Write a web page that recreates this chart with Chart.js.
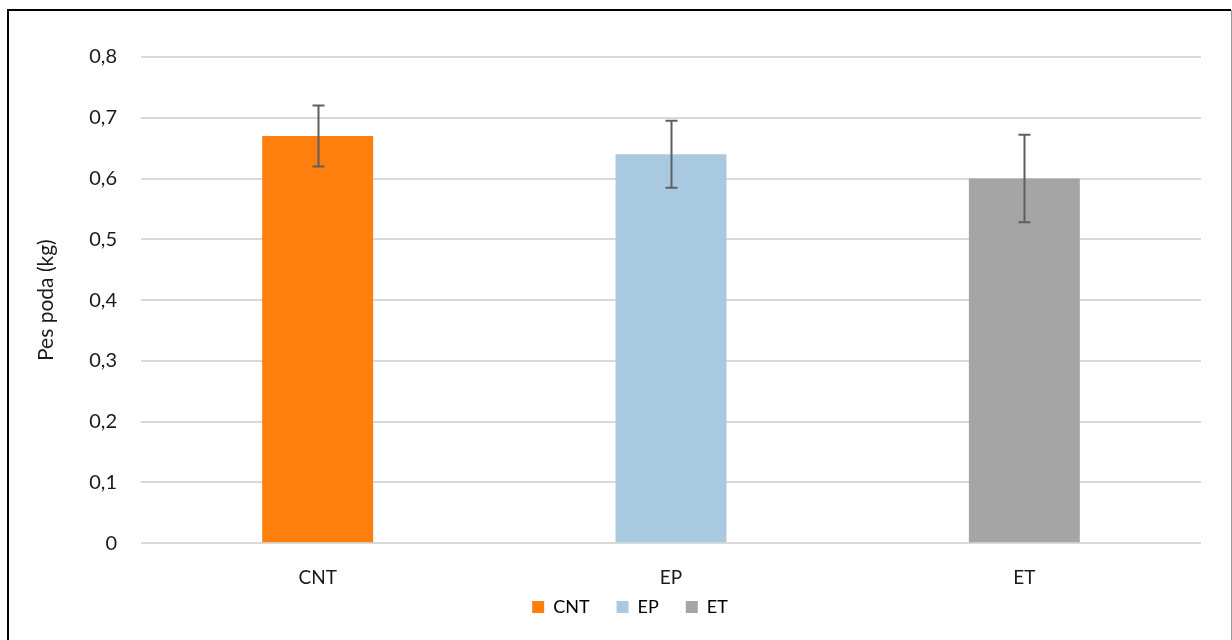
<!DOCTYPE html>
<html>
<head>
<meta charset="utf-8">
<style>
  html, body { margin: 0; padding: 0; background: #fff; }
  #wrap { position: relative; width: 1232px; height: 640px; }
</style>
<script src="https://cdn.jsdelivr.net/npm/chart.js@4"></script>
</head>
<body>
<div id="wrap"><canvas id="chart" width="1232" height="640"></canvas></div>
<script>
// data
let categories = ['CNT', 'EP', 'ET']
let values = [0.67, 0.64, 0.60]
let errors = [0.05, 0.055, 0.072]
let barColors = ['rgb(255, 127, 14)', 'rgb(169, 201, 225)', 'rgb(165, 165, 165)']
let yTicks = [0, 0.1, 0.2, 0.3, 0.4, 0.5, 0.6, 0.7, 0.8]

const fontFamily = "Lato, 'Open Sans', sans-serif"
const textColor = '#1a1a1a'

// frame round the chart, like the office chart border
let framePlugin = {
    id: 'frame',
    beforeDraw(chart) {
        const ctx = chart.ctx
        ctx.save()
        ctx.strokeStyle = '#000'
        ctx.lineWidth = 2
        ctx.beginPath()
        ctx.moveTo(8, 640)
        ctx.lineTo(8, 10)
        ctx.lineTo(1231, 10)
        ctx.stroke()
        ctx.strokeStyle = '#9a9a9a'
        ctx.lineWidth = 1
        ctx.beginPath()
        ctx.moveTo(1231.5, 10)
        ctx.lineTo(1231.5, 640)
        ctx.stroke()
        ctx.restore()
    }
}

// error bars drawn through the scales
let errorBarPlugin = {
    id: 'errorBars',
    afterDatasetsDraw(chart) {
        const ctx = chart.ctx
        const x = chart.scales.x
        const y = chart.scales.y
        ctx.save()
        ctx.strokeStyle = '#5f5f5f'
        ctx.lineWidth = 2
        for (let i = 0; i < values.length; i++) {
            const cx = Math.round(x.getPixelForValue(i)) + 0.5
            const top = y.getPixelForValue(values[i] + errors[i])
            const bot = y.getPixelForValue(values[i] - errors[i])
            ctx.beginPath()
            ctx.moveTo(cx, top)
            ctx.lineTo(cx, bot)
            ctx.moveTo(cx - 6, top)
            ctx.lineTo(cx + 6, top)
            ctx.moveTo(cx - 6, bot)
            ctx.lineTo(cx + 6, bot)
            ctx.stroke()
        }
        ctx.restore()
    }
}

const ctx = document.getElementById('chart').getContext('2d')
const myChart = new Chart(ctx, {
    type: 'bar',
    data: {
        labels: categories,
        datasets: [{
            label: 'Pes poda',
            data: values,
            backgroundColor: barColors,
            borderWidth: 0,
            barPercentage: 0.314,
            categoryPercentage: 1.0
        }]
    },
    options: {
        responsive: false,
        animation: false,
        layout: {
            padding: { left: 59, right: 31, top: 57, bottom: 14 }
        },
        plugins: {
            tooltip: { enabled: false },
            legend: {
                position: 'bottom',
                labels: {
                    boxWidth: 12,
                    boxHeight: 12,
                    padding: 27,
                    color: textColor,
                    font: { family: fontFamily, size: 18 },
                    generateLabels(chart) {
                        return categories.map((c, i) => ({
                            text: c,
                            fillStyle: barColors[i],
                            strokeStyle: barColors[i],
                            lineWidth: 0,
                            hidden: false,
                            index: i
                        }))
                    }
                },
                onClick: null
            }
        },
        scales: {
            x: {
                // tighter box so the legend sits close under the labels; no clipping of labels
                afterFit(scale) {
                    scale.height = scale.height - 33
                    scale._computeLabelArea = () => undefined
                },
                grid: { display: false },
                border: { display: false },
                ticks: {
                    color: textColor,
                    padding: 15,
                    font: { family: fontFamily, size: 19 }
                }
            },
            y: {
                min: 0,
                max: 0.8,
                afterFit(scale) { scale.width = 82 },
                afterBuildTicks(scale) { scale.ticks = yTicks.map(v => ({ value: v })) },
                grid: { color: '#d9d9d9', lineWidth: 2, drawTicks: false },
                border: { display: false },
                ticks: {
                    color: textColor,
                    padding: 24,
                    font: { family: fontFamily, size: 20 },
                    callback: v => String(Math.round(v * 10) / 10).replace('.', ',')
                },
                title: {
                    display: true,
                    text: 'Pes poda (kg)',
                    color: textColor,
                    font: { family: fontFamily, size: 21 },
                    padding: { top: -25, bottom: 4 }
                }
            }
        }
    },
    plugins: [framePlugin, errorBarPlugin]
})
</script>
</body>
</html>
